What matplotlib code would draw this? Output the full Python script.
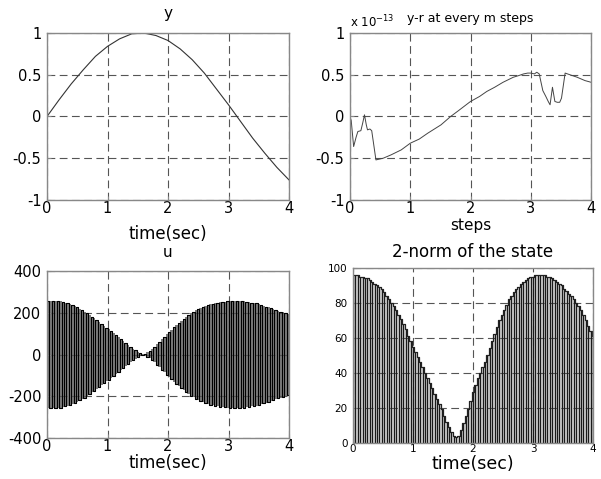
import numpy as np
import matplotlib
matplotlib.use("Agg")
import matplotlib.pyplot as plt

plt.rcParams['font.family'] = ['DejaVu Sans']
plt.rcParams['axes.unicode_minus'] = False

# y (output), sampled every 0.2 s
y_t = np.linspace(0, 4, 21)
y_v = [0.0, 0.2, 0.39, 0.56, 0.72, 0.84, 0.93, 0.99, 1.0, 0.97, 0.91,
       0.81, 0.68, 0.52, 0.33, 0.14, -0.06, -0.26, -0.44, -0.61, -0.76]

# y-r at every m steps (x 1e-13)
yr_t = [0.0, 0.02, 0.06, 0.1, 0.13, 0.18, 0.21, 0.24, 0.27, 0.29,
        0.33, 0.36, 0.43, 0.55, 0.68, 0.85, 1.0, 1.15, 1.29, 1.4,
        1.51, 1.67, 1.8, 2.0, 2.15, 2.27, 2.4, 2.54, 2.71, 2.8,
        2.88, 2.95, 3.0, 3.06, 3.1, 3.14, 3.2, 3.25, 3.29, 3.32,
        3.36, 3.4, 3.44, 3.48, 3.51, 3.57, 3.65, 3.77, 3.9, 4.0]
yr_v = [0.0, -0.05, -0.36, -0.25, -0.18, -0.17, -0.08, 0.02, -0.1, -0.16,
        -0.15, -0.17, -0.52, -0.5, -0.46, -0.40, -0.32, -0.27, -0.2, -0.15,
        -0.1, 0.0, 0.07, 0.18, 0.24, 0.30, 0.35, 0.41, 0.47, 0.49,
        0.51, 0.52, 0.52, 0.51, 0.53, 0.51, 0.31, 0.24, 0.18, 0.14,
        0.35, 0.18, 0.17, 0.17, 0.22, 0.52, 0.50, 0.47, 0.43, 0.41]

# control u (zero-order hold), one value every 0.04 s
u_t = np.linspace(0, 4, 101)
u_v = [255, -256, 256, -256, 255, -254, 251, -248, 245, -241,
       236, -231, 226, -220, 213, -206, 198, -190, 182, -174,
       165, -156, 147, -138, 129, -120, 111, -101, 92, -82,
       73, -63, 54, -45, 36, -28, 20, -13, 7, -3,
       4, -10, 18, -27, 37, -49, 61, -73, 85, -96,
       108, -119, 130, -141, 152, -162, 172, -181, 190, -198,
       205, -212, 218, -224, 229, -234, 238, -241, 244, -247,
       249, -251, 252, -253, 254, -255, 255, -256, 256, -256,
       255, -254, 253, -251, 249, -247, 245, -242, 238, -234,
       230, -226, 222, -218, 214, -210, 206, -202, 198, -194,
       190]

# 2-norm of the state, peaks every 0.04 s
n_t = np.linspace(0, 4, 101)
n_v = [96, 96, 96, 95, 95, 94, 94, 93, 92, 91,
       90, 89, 88, 86, 84, 82, 80, 78, 76, 73,
       71, 68, 65, 61, 58, 55, 52, 49, 46, 43,
       40, 37, 34, 31, 28, 25, 22, 19, 15, 12,
       9, 6, 4, 3, 4, 7, 11, 15, 19, 24,
       29, 33, 37, 40, 43, 46, 50, 54, 58, 62,
       66, 70, 73, 76, 79, 82, 84, 86, 88, 89,
       91, 92, 93, 94, 95, 95, 96, 96, 96, 96,
       96, 95, 95, 94, 93, 92, 91, 90, 88, 87,
       85, 84, 82, 80, 78, 76, 73, 70, 67, 64,
       61]

fig = plt.figure(figsize=(6.01, 4.79), dpi=100)
ax1 = fig.add_axes([0.0782, 0.5825, 0.4027, 0.3486])
ax2 = fig.add_axes([0.5824, 0.5825, 0.4010, 0.3486])
ax3 = fig.add_axes([0.0782, 0.0856, 0.4027, 0.3486])
ax4 = fig.add_axes([0.5874, 0.0762, 0.3993, 0.3643])


def matlab_style(ax, yticks, ylabels, tick_size=10.5):
    ax.set_xlim(0, 4)
    ax.set_xticks([0, 1, 2, 3, 4])
    ax.set_xticklabels(['0', '1', '2', '3', '4'])
    ax.set_ylim(yticks[0], yticks[-1])
    ax.set_yticks(yticks)
    ax.set_yticklabels(ylabels)
    ax.grid(True, color='#555555', linestyle=(0, (7, 4)), linewidth=0.8)
    ax.tick_params(direction='in', length=3, color='#888888',
                   labelsize=tick_size)
    ax.tick_params(axis='x', pad=1)
    ax.tick_params(axis='y', pad=4)
    for s in ax.spines.values():
        s.set_color('#888888')
        s.set_linewidth(1.0)


ax1.plot(y_t, y_v, color='#333333', linewidth=0.8)
matlab_style(ax1, [-1, -0.5, 0, 0.5, 1], ['-1', '-0.5', '0', '0.5', '1'])
ax1.set_title('y', fontsize=11, pad=11)
ax1.set_xlabel('time(sec)', fontsize=12, labelpad=6)

ax2.plot(yr_t, yr_v, color='#444444', linewidth=0.7)
matlab_style(ax2, [-1, -0.5, 0, 0.5, 1], ['-1', '-0.5', '0', '0.5', '1'])
ax2.set_title('y-r at every m steps', fontsize=9, pad=8)
ax2.text(0.0, 1.015, r'x 10$^{\mathregular{-13}}$', transform=ax2.transAxes,
         ha='left', va='bottom', fontsize=8.5)
ax2.set_xlabel('steps', fontsize=11, labelpad=1)

u_abs = np.abs(u_v)
ax3.fill_between(u_t, -u_abs, u_abs, step='post', color='#7c7c7c', linewidth=0)
ax3.plot(u_t, u_v, color='#000000', linewidth=0.8, drawstyle='steps-post')
matlab_style(ax3, [-400, -200, 0, 200, 400], ['-400', '-200', '0', '200', '400'])
ax3.set_title('u', fontsize=11, pad=10)
ax3.set_xlabel('time(sec)', fontsize=12, labelpad=0)

ax4.fill_between(n_t, 0, n_v, step='mid', color='#d2d2d2', linewidth=0)
ax4.vlines(n_t, 0, n_v, color='#1a1a1a', linewidth=0.9)
ax4.plot(n_t, n_v, color='#222222', linewidth=0.9, drawstyle='steps-mid')
matlab_style(ax4, [0, 20, 40, 60, 80, 100], ['0', '20', '40', '60', '80', '100'],
             tick_size=7.5)
ax4.set_title('2-norm of the state', fontsize=12, pad=8)
ax4.set_xlabel('time(sec)', fontsize=12.5, labelpad=1)

fig.savefig('out.png', dpi=100)
